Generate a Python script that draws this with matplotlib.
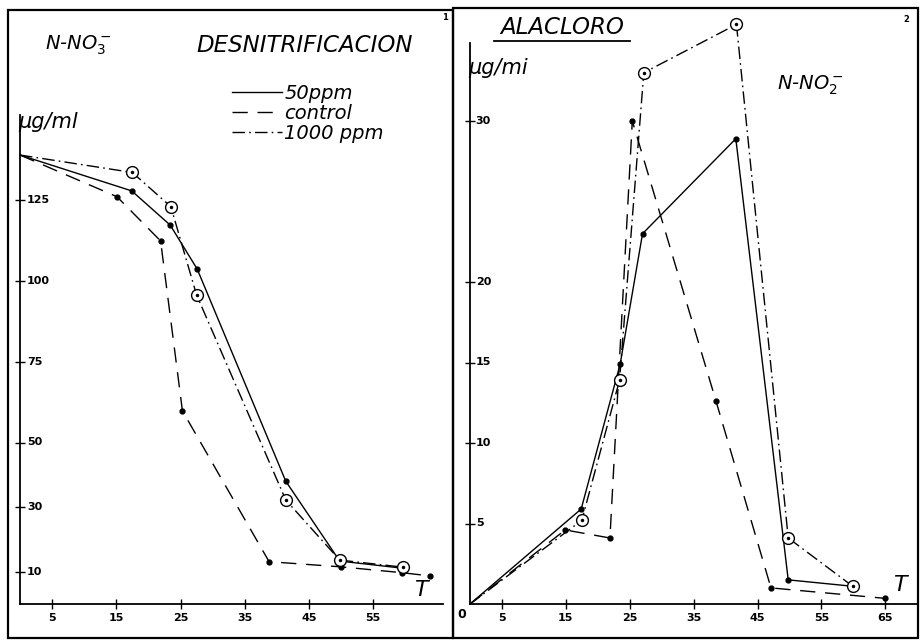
import matplotlib.pyplot as plt
from matplotlib.lines import Line2D
from matplotlib.patches import Rectangle

W, H = 923, 641

# panel 1: N-NO3 (desnitrificacion), T vs ug/ml
t_50_a = [0, 17.4, 23.4, 27.6, 41.4, 49.8, 59.5]
no3_50 = [139, 127.9, 117.3, 103.7, 38.0, 13.3, 11.1]
t_ctl_a = [0, 15.1, 21.9, 25.3, 38.8, 50.0, 59.5, 63.8]
no3_ctl = [139, 126.1, 112.4, 59.8, 13.1, 11.5, 9.7, 8.7]
t_1000_a = [0, 17.5, 23.5, 27.5, 41.4, 49.8, 59.7]
no3_1000 = [139, 133.6, 123.0, 95.7, 32.2, 13.6, 11.4]

# panel 2: N-NO2 (alacloro)
t_50_b = [0, 17.4, 23.5, 27.0, 41.6, 49.8, 59.9]
no2_50 = [0, 5.9, 14.9, 23.0, 28.9, 1.5, 1.1]
t_ctl_b = [0, 14.9, 21.9, 25.4, 38.5, 47.1, 65.0]
no2_ctl = [0, 4.6, 4.1, 30.0, 12.6, 1.0, 0.35]
t_1000_b = [0, 17.5, 23.4, 27.2, 41.7, 49.8, 59.9]
no2_1000 = [0, 5.2, 13.9, 33.0, 36.0, 4.1, 1.1]

xticks_a = [5, 15, 25, 35, 45, 55]
yticks_a = [10, 30, 50, 75, 100, 125]
xticks_b = [5, 15, 25, 35, 45, 55, 65]
yticks_b = [5, 10, 15, 20, 30]

DASH = (0, (11, 7))
DASHDOT = (0, (9, 3, 1.2, 3))


def fig_box(l, t, r, b):
    return [l / W, 1 - b / H, (r - l) / W, (b - t) / H]


def draw_series(ax, t50, y50, tc, yc, t1k, y1k):
    ax.plot(t50, y50, color='black', lw=1, marker='o', ms=3.5,
            markevery=list(range(1, len(t50))), clip_on=False)
    ax.plot(tc, yc, color='black', lw=1, ls=DASH, marker='o', ms=3.5,
            markevery=list(range(1, len(tc))), clip_on=False)
    ax.plot(t1k, y1k, color='black', lw=1, ls=DASHDOT, marker='o', ms=8.5,
            mfc='white', mec='black', mew=1,
            markevery=list(range(1, len(t1k))), clip_on=False)
    # small dot in the middle of the open circles
    ax.plot(t1k[1:], y1k[1:], ls='none', marker='o', ms=1.5, color='black',
            clip_on=False)


def style_axes(ax):
    for s in ['top', 'right']:
        ax.spines[s].set_visible(False)
    for s in ['left', 'bottom']:
        ax.spines[s].set_linewidth(1.3)
    ax.tick_params(direction='inout', length=7, width=1, labelsize=8,
                   pad=3)
    for lab in ax.get_xticklabels() + ax.get_yticklabels():
        lab.set_fontweight('bold')


fig = plt.figure(figsize=(W / 100, H / 100), dpi=100)

# frames round the two panels
fig.add_artist(Rectangle((8 / W, 1 - 638 / H), (453 - 8) / W, (638 - 10) / H,
                         transform=fig.transFigure, fill=False, lw=1.6, ec='black'))
fig.add_artist(Rectangle((453 / W, 1 - 638 / H), (918 - 453) / W, (638 - 8) / H,
                         transform=fig.transFigure, fill=False, lw=1.6, ec='black'))

# left panel
ax1 = fig.add_axes(fig_box(20, 115, 443, 604))
ax1.set_xlim(0, (443 - 20) / 6.42)
ax1.set_ylim(0, (604 - 115) / 3.23)
draw_series(ax1, t_50_a, no3_50, t_ctl_a, no3_ctl, t_1000_a, no3_1000)
ax1.set_xticks(xticks_a)
ax1.set_yticks(yticks_a)
style_axes(ax1)
ax1.tick_params(axis='y', labelleft=False, labelright=False)
for v in yticks_a:
    ax1.text(1.1, v, str(v), fontsize=8, fontweight='bold', va='center', ha='left')

handles = [Line2D([], [], color='black', lw=1),
           Line2D([], [], color='black', lw=1, ls=DASH),
           Line2D([], [], color='black', lw=1, ls=DASHDOT)]
fig.legend(handles, ['50ppm', 'control', '1000 ppm'], loc='upper left',
           bbox_to_anchor=(222 / W, 1 - 74 / H), frameon=False,
           handlelength=2.6, handletextpad=0.1, labelspacing=0.05,
           borderpad=0, prop={'size': 14, 'style': 'italic'})

fig.text(45 / W, 1 - 45 / H, r'N-NO$_3^-$', fontsize=14, style='italic',
         va='center', ha='left')
fig.text(196 / W, 1 - 45 / H, 'DESNITRIFICACION', fontsize=16.5, style='italic',
         va='center', ha='left')
fig.text(445 / W, 1 - 18 / H, '1', fontsize=6, fontweight='bold', ha='center', va='center')
fig.text(18 / W, 1 - 122 / H, 'µg/ml', fontsize=15, style='italic',
         va='center', ha='left')
fig.text(414 / W, 1 - 590 / H, 'T', fontsize=16, style='italic', va='center', ha='left')

# right panel
ax2 = fig.add_axes(fig_box(470, 20, 918, 604))
ax2.set_xlim(0, (918 - 470) / 6.39)
ax2.set_ylim(0, (604 - 20) / 16.1)
draw_series(ax2, t_50_b, no2_50, t_ctl_b, no2_ctl, t_1000_b, no2_1000)
ax2.set_xticks(xticks_b)
ax2.set_yticks(yticks_b)
style_axes(ax2)
ax2.spines['left'].set_bounds(0, (604 - 43) / 16.1)
ax2.tick_params(axis='y', labelleft=False)
for v in yticks_b:
    ax2.text(0.9, v, str(v), fontsize=8, fontweight='bold', va='center', ha='left')
ax2.text(-0.6, -0.25, '0', fontsize=9, fontweight='bold', ha='right', va='top')

fig.text(500 / W, 1 - 27 / H, 'ALACLORO', fontsize=16.5, style='italic',
         va='center', ha='left')
fig.add_artist(Line2D([494 / W, 630 / W], [1 - 41 / H, 1 - 41 / H],
                      transform=fig.transFigure, color='black', lw=1.3))
fig.text(906 / W, 1 - 20 / H, '2', fontsize=6, fontweight='bold', ha='center', va='center')
fig.text(468 / W, 1 - 68 / H, 'µg/mi', fontsize=15, style='italic',
         va='center', ha='left')
fig.text(777 / W, 1 - 85 / H, r'N-NO$_2^-$', fontsize=14, style='italic',
         va='center', ha='left')
fig.text(893 / W, 1 - 585 / H, 'T', fontsize=16, style='italic', va='center', ha='left')

fig.savefig('out.png', dpi=100)
